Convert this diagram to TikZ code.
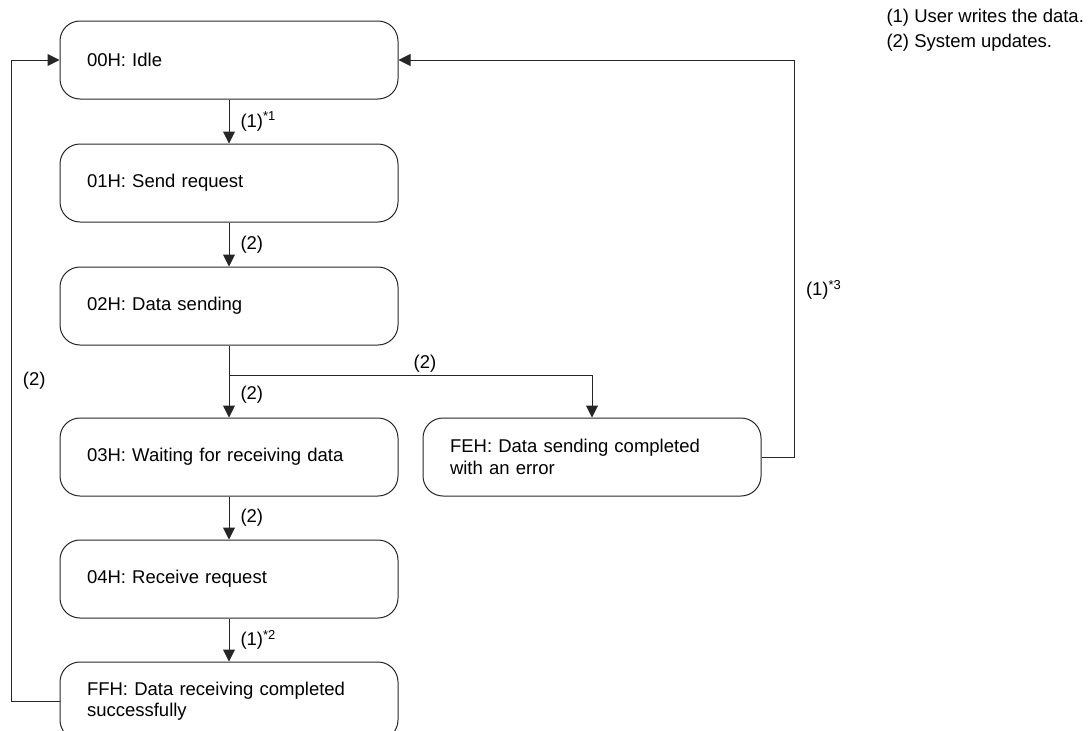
\documentclass[tikz,border=0pt]{standalone}
\usepackage{fontspec}
\setmainfont{Liberation Sans}
\usepackage{tikz}
\usetikzlibrary{arrows.meta,positioning}
\tikzstyle{state} = [rectangle, draw=black!85, line width=1pt, rounded corners=20pt,
text width=284pt, align=left, inner xsep=27pt, minimum height=78pt]
\tikzstyle{line} = [draw=black!85, line width=1pt, -{Triangle[length=12pt,width=12pt]}]
\tikzstyle{lbl} = [inner xsep=11pt, inner ysep=3pt]

\begin{document}
\begin{tikzpicture}[node distance = 44pt, every node/.style={font=\fontsize{18.5}{21.5}\selectfont}]
	\useasboundingbox (0,0) rectangle (1088pt,-731pt);
	
	% Main states
	\node [state] (idle) at (229pt,-60pt) {00H: Idle};
	\node [state, below=of idle] (sendreq) {01H: Send request};
	\node [state, below=of sendreq] (sending) {02H: Data sending};
	\node [state, below=72pt of sending] (waitrx) {03H: Waiting for receiving data};
	\node [state, below=43pt of waitrx] (recvreq) {04H: Receive request};
	\node [state, below=43pt of recvreq] (rxdone) {FFH: Data receiving completed\\successfully};
	\node [state, right=24pt of waitrx] (txerr) {FEH: Data sending completed\\with an error};
	
	% Legend
	\node [align=left, anchor=north west] (legend) at (883pt,-6pt)
	{(1) User writes the data.\\[3pt](2) System updates.};
	
	% Helper points
	\coordinate (split) at ([yshift=-30pt]sending.south);
	\coordinate (errout) at ([xshift=33pt]txerr.east);
	\coordinate (rxout) at ([xshift=-48pt]rxdone.west);
	
	% Edges
	\path [line] (idle) -- node [lbl, right] {(1)\textsuperscript{*1}} (sendreq);
	\path [line] (sendreq) -- node [lbl, right] {(2)} (sending);
	\draw [draw=black!85, line width=1pt] (sending) -- (split);
	\path [line] (split) -- node [lbl, right, yshift=2pt] {(2)} (waitrx);
	\path [line] (split) -| node [inner sep=3pt, pos=0.27, above] {(2)} (txerr);
	\path [line] (waitrx) -- node [lbl, right] {(2)} (recvreq);
	\path [line] (recvreq) -- node [lbl, right] {(1)\textsuperscript{*2}} (rxdone);
	\path [line] (txerr) -- (errout) |- node [lbl, pos=0.21, right] {(1)\textsuperscript{*3}} (idle);
	\path [line] (rxdone) -- (rxout) |- node [lbl, pos=0.25, right] {(2)} (idle);
	
\end{tikzpicture}
\end{document}
